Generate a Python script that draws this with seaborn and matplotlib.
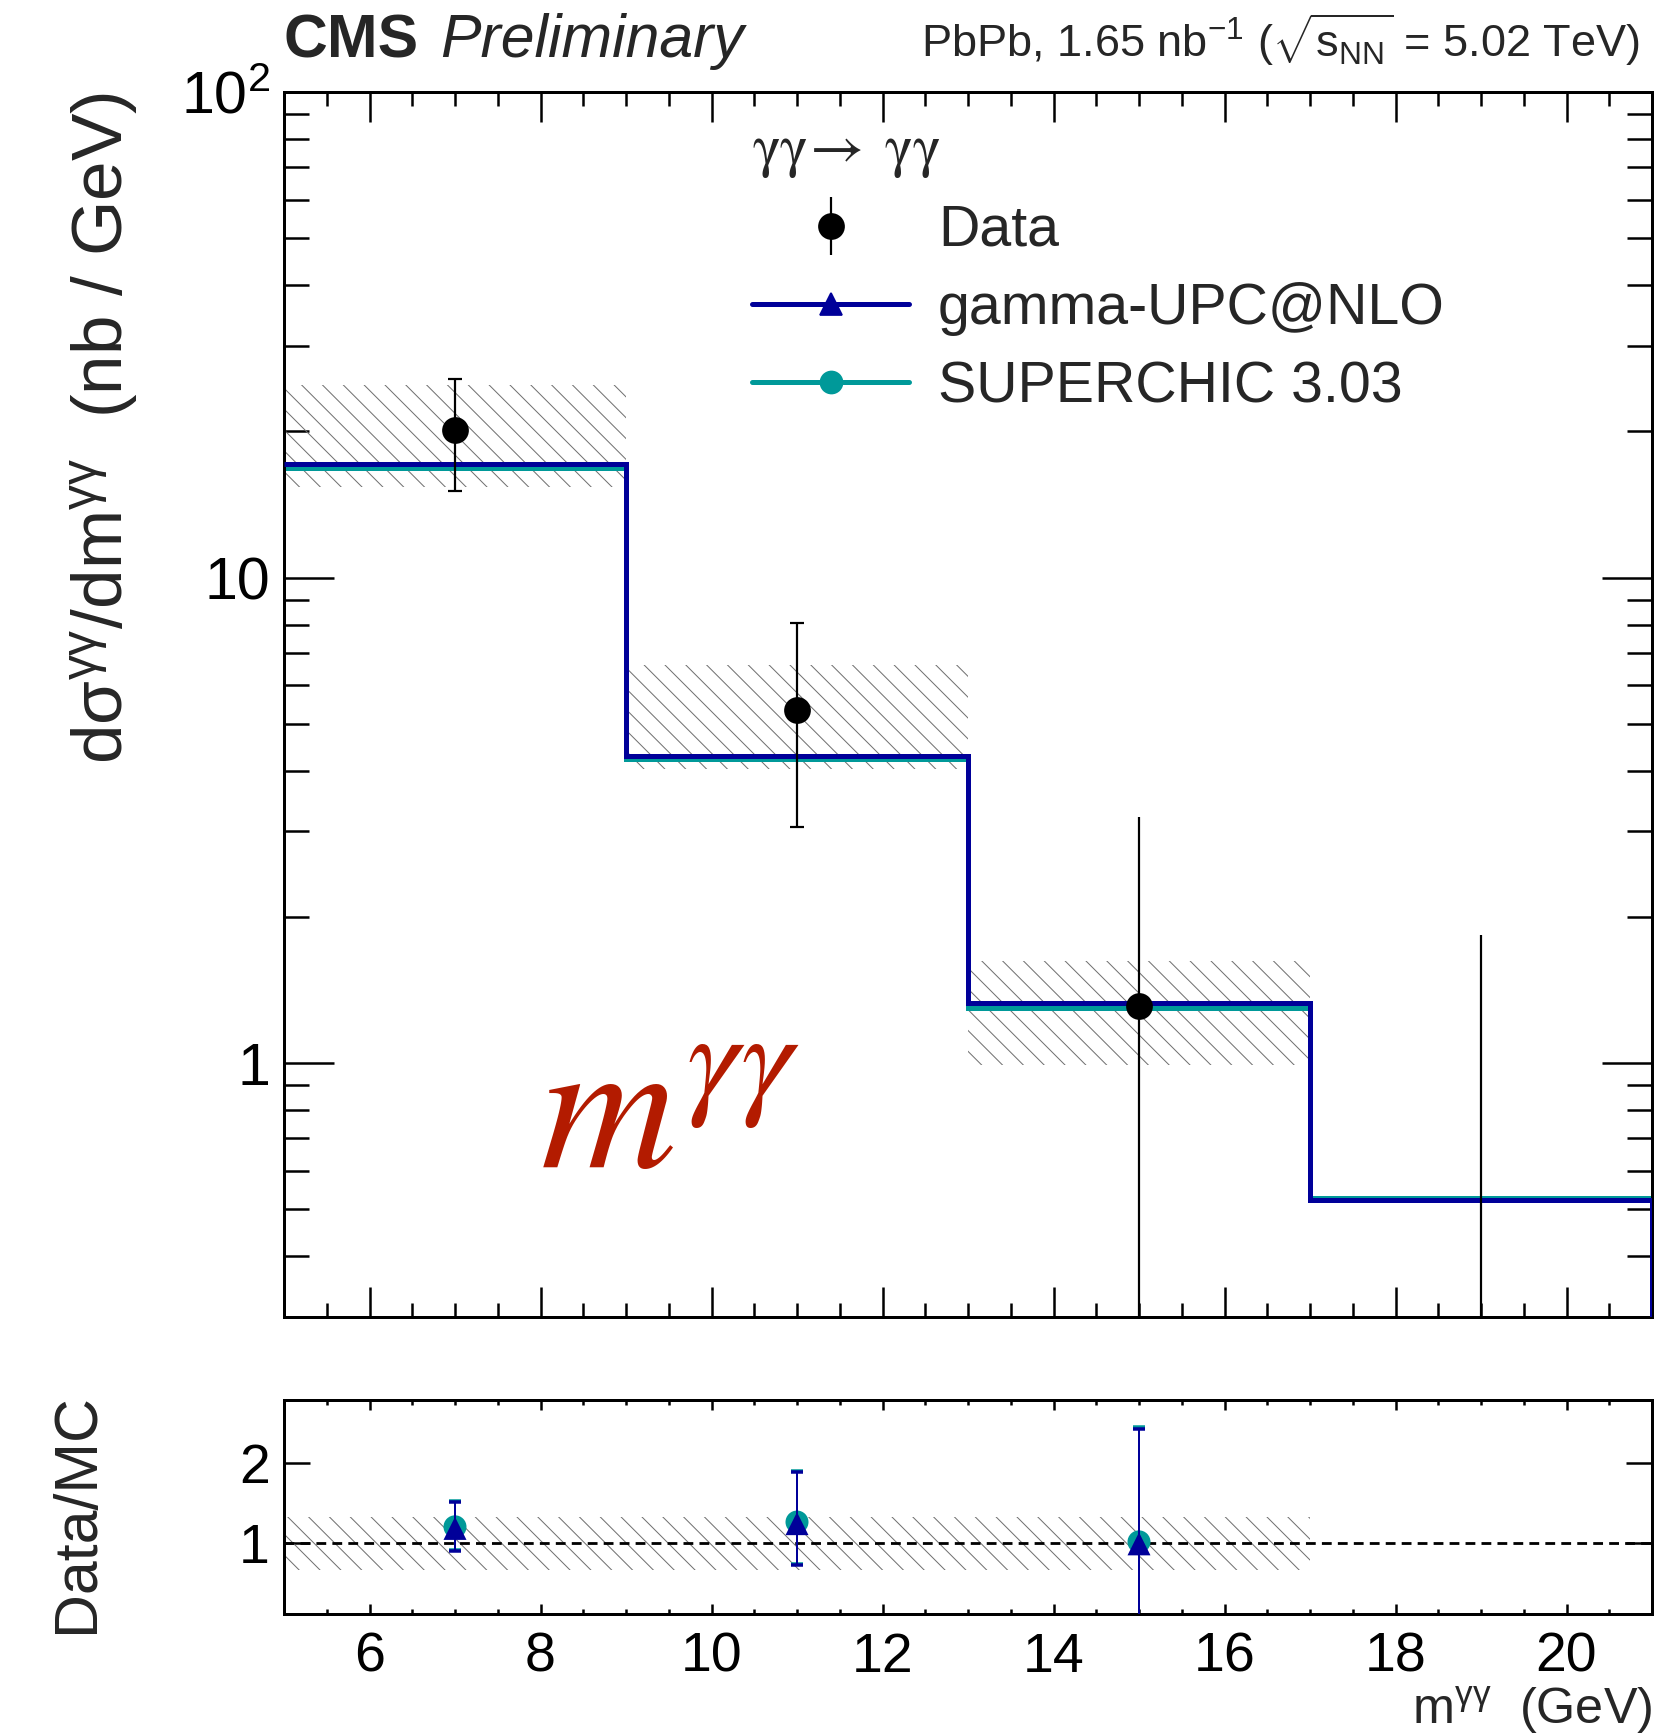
import numpy as np
import pandas as pd
import seaborn as sns
import matplotlib
matplotlib.use("Agg")
import matplotlib.pyplot as plt
from matplotlib.ticker import FixedLocator, MultipleLocator, LogLocator, NullFormatter, FuncFormatter
from matplotlib.lines import Line2D

# ---------------- data ----------------
bin_edges = [5, 9, 13, 17, 21]
bin_centers = [7, 11, 15, 19]
data_xsec = [20.1, 5.33, 1.31, 0.0]
data_err_lo = [5.0, 2.27, 1.30, 0.0]
data_err_hi = [5.6, 2.74, 1.91, 1.84]
syst_lo = [15.4, 4.03, 0.99]
syst_hi = [24.9, 6.61, 1.62]
gamma_upc = [17.1, 4.30, 1.33, 0.522]
superchic = [16.8, 4.22, 1.30, 0.527]

ratio_x = [7, 11, 15]
ratio_upc = [1.18, 1.24, 0.985]
ratio_upc_lo = [0.28, 0.52, 0.985]
ratio_upc_hi = [0.33, 0.65, 1.445]
ratio_sc = [1.20, 1.26, 1.01]
ratio_sc_lo = [0.29, 0.53, 1.01]
ratio_sc_hi = [0.33, 0.65, 1.45]
ratio_band_edges = [5, 17]
ratio_band_lo = 0.66
ratio_band_hi = 1.32

x_range = (5, 21)
y_range = (0.3, 100)
ratio_range = (0.1, 2.8)

BLUE = "#000099"
TEAL = "#009999"
RED = "#b31b00"
HATCH = "#707070"

DPI = 125
PT = 72.0 / DPI  # points per pixel

sns.set_theme(style="ticks")
plt.rcParams.update({
    "font.family": ["Liberation Sans", "DejaVu Sans"],
    "mathtext.fontset": "custom",
    "mathtext.rm": "Liberation Sans",
    "mathtext.it": "Liberation Sans:italic",
    "mathtext.bf": "Liberation Sans:bold",
    "hatch.linewidth": 1.0 * PT,
    "axes.linewidth": 3 * PT,
    "axes.edgecolor": "black",
})

fig = plt.figure(figsize=(1663 / DPI, 1734 / DPI), dpi=DPI)
W, H = 1663, 1734
ax = fig.add_axes([284 / W, 1 - 1317 / H, (1652 - 284) / W, (1317 - 92) / H])
rax = fig.add_axes([284 / W, 1 - 1614 / H, (1652 - 284) / W, (1614 - 1400) / H])

TICK_FS = 32
HIST_LW = 5 * PT

# ---------------- main panel ----------------
ax.set_yscale("log")
ax.set_xlim(*x_range)
ax.set_ylim(*y_range)

# systematic bands
for i in range(len(syst_lo)):
    ax.fill_between([bin_edges[i], bin_edges[i + 1]], syst_lo[i], syst_hi[i],
                    facecolor="none", edgecolor=HATCH, hatch="\\\\", linewidth=0, zorder=1)

# histograms
ax.stairs(superchic, bin_edges, baseline=None, color=TEAL, linewidth=HIST_LW, zorder=2)
ax.stairs(gamma_upc, bin_edges, baseline=None, color=BLUE, linewidth=HIST_LW, zorder=3)
ax.vlines(bin_edges[-1], y_range[0], gamma_upc[-1], color=BLUE, linewidth=HIST_LW, zorder=3)

# data
dfd = pd.DataFrame({"x": bin_centers, "y": data_xsec, "lo": data_err_lo, "hi": data_err_hi})
d1 = dfd.iloc[:2]
d2 = dfd.iloc[2:]
ax.errorbar(d1.x, d1.y, yerr=[d1.lo, d1.hi], fmt="o", color="black", ms=25 * PT,
            elinewidth=2.2 * PT, capsize=7 * PT, capthick=2.2 * PT, zorder=5)
h_data = ax.errorbar(d2.x, d2.y, yerr=[d2.lo, d2.hi], fmt="o", color="black", ms=25 * PT,
                     elinewidth=2.2 * PT, capsize=0, zorder=5)

ax.yaxis.set_major_locator(FixedLocator([1, 10, 100]))
ax.yaxis.set_minor_locator(LogLocator(base=10, subs=np.arange(2, 10)))
ax.yaxis.set_minor_formatter(NullFormatter())
ax.yaxis.set_major_formatter(FuncFormatter(lambda v, p: {1: "1", 10: "10", 100: "10$^{2}$"}.get(int(round(v)), "")))
ax.xaxis.set_major_locator(MultipleLocator(2))
ax.xaxis.set_minor_locator(MultipleLocator(0.5))
ax.tick_params(axis="both", which="both", direction="in", top=True, right=True, labelsize=34, colors="black")
ax.tick_params(axis="x", which="major", length=30 * PT, width=2.5 * PT, labelbottom=False)
ax.tick_params(axis="x", which="minor", length=14 * PT, width=2.5 * PT)
ax.tick_params(axis="y", which="major", length=50 * PT, width=2.5 * PT, pad=14 * PT)
ax.tick_params(axis="y", which="minor", length=25 * PT, width=2.5 * PT)

ax.set_ylabel("d$\\mathrm{\u03c3^{\u03b3\u03b3}}$/dm$^{\\mathrm{\u03b3\u03b3}}$  (nb / GeV)", fontsize=41, loc="top")
ax.yaxis.set_label_coords(-0.104, 1.0)

# big red label
ax.text(8.0, 0.608, r"$m^{\gamma\gamma}$", color=RED, fontsize=108, math_fontfamily="stix",
        ha="left", va="baseline")

# legend
h_upc = Line2D([], [], color=BLUE, lw=HIST_LW, marker="^", ms=22 * PT)
h_sc = Line2D([], [], color=TEAL, lw=HIST_LW, marker="o", ms=22 * PT)
leg = ax.legend([h_data, h_upc, h_sc], ["Data", "gamma-UPC@NLO", "SUPERCHIC 3.03"],
                loc="upper left", bbox_to_anchor=(0.321, 0.999), frameon=False, fontsize=33,
                handlelength=2.75, handletextpad=0.5, labelspacing=0.42, borderpad=0,
                title=r"$\mathrm{\gamma\gamma}\!\rightarrow\;\mathrm{\gamma\gamma}$", alignment="left")
leg.get_title().set_math_fontfamily("stix")
leg.get_title().set_fontsize(34)

# header texts
fig.text(284 / W, 1 - 57 / H, "CMS", fontsize=35, fontweight="bold", va="baseline", ha="left")
fig.text(440 / W, 1 - 57 / H, "Preliminary", fontsize=35, fontstyle="italic", va="baseline", ha="left")
fig.text(1640 / W, 1 - 57 / H, "PbPb, 1.65 nb$^{\\mathrm{-1}}$ ($\\sqrt{\\mathrm{s_{NN}}}$ = 5.02 TeV)",
         fontsize=26, va="baseline", ha="right")

# ---------------- ratio panel ----------------
rax.set_xlim(*x_range)
rax.set_ylim(*ratio_range)
rax.fill_between(ratio_band_edges, ratio_band_lo, ratio_band_hi, facecolor="none",
                 edgecolor=HATCH, hatch="\\\\", linewidth=0, zorder=1)
rax.axhline(1.0, color="black", lw=2.8 * PT, ls=(0, (3.5, 2.2)), zorder=2)

rdf = pd.DataFrame({"x": ratio_x + ratio_x,
                    "r": ratio_sc + ratio_upc,
                    "model": ["SUPERCHIC"] * 3 + ["gamma-UPC"] * 3})
rax.errorbar(ratio_x, ratio_sc, yerr=[ratio_sc_lo, ratio_sc_hi], fmt="none", ecolor=TEAL,
             elinewidth=2 * PT, capsize=6 * PT, capthick=3.5 * PT, zorder=3)
sns.scatterplot(data=rdf, x="x", y="r", hue="model", style="model",
                palette={"SUPERCHIC": TEAL, "gamma-UPC": BLUE},
                markers={"SUPERCHIC": "o", "gamma-UPC": "^"}, s=(23 * PT) ** 2,
                edgecolor="none", legend=False, ax=rax, zorder=4)
rax.errorbar(ratio_x, ratio_upc, yerr=[ratio_upc_lo, ratio_upc_hi], fmt="none", ecolor=BLUE,
             elinewidth=2 * PT, capsize=6 * PT, capthick=3.5 * PT, zorder=5)

rax.yaxis.set_major_locator(FixedLocator([1, 2]))
rax.yaxis.set_minor_locator(FixedLocator([]))
rax.xaxis.set_major_locator(MultipleLocator(2))
rax.xaxis.set_minor_locator(MultipleLocator(0.5))
rax.tick_params(axis="both", which="both", direction="in", top=True, right=True, labelsize=TICK_FS, colors="black")
rax.tick_params(axis="x", which="major", length=10 * PT, width=2.5 * PT, pad=18 * PT)
rax.tick_params(axis="x", which="minor", length=5 * PT, width=2.5 * PT)
rax.tick_params(axis="y", which="major", length=26 * PT, width=2.5 * PT, pad=14 * PT)
rax.set_xlabel("m$^{\\mathrm{\u03b3\u03b3}}$  (GeV)", fontsize=29, loc="right")
rax.xaxis.set_label_coords(1.0, -0.325)
rax.set_ylabel("Data/MC", fontsize=35)
rax.yaxis.set_label_coords(-0.13, 0.47)

fig.savefig("out.png", dpi=DPI)
